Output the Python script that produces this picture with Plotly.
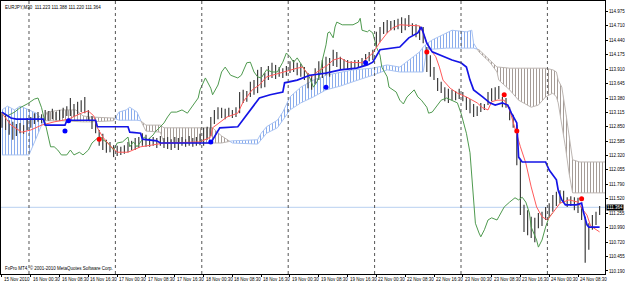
import plotly.graph_objects as go

# ---------------- data ----------------
symbol_header = "EURJPY,M30  111.223 111.388 111.220 111.364"
footer_text = "FxPro MT4, \u00a9 2001-2010 MetaQuotes Software Corp."
last_price = 111.364

# price bars (every second M30 bar index)
bar_idx = list(range(0, 333, 2))
bar_high = [113.12,113.07,112.97,112.94,112.90,112.92,112.88,113.01,113.03,113.10,
            113.12,113.08,113.16,113.14,113.18,113.12,113.16,113.20,113.23,113.38,
            113.27,113.31,113.34,113.40,113.16,113.05,112.97,112.79,112.72,112.61,
            112.57,112.51,112.50,112.48,112.51,112.57,112.59,112.64,112.66,112.73,
            112.70,112.64,112.66,112.64,112.68,112.64,112.66,112.62,112.66,112.64,
            112.66,112.62,112.68,112.64,112.66,112.72,112.83,112.85,113.03,113.16,
            113.21,113.20,113.18,113.20,113.16,113.21,113.49,113.53,113.51,113.68,
            113.71,113.90,113.95,113.84,113.97,114.03,113.99,113.95,113.93,113.97,
            114.06,114.08,114.03,114.01,113.95,113.84,113.80,113.93,114.06,114.08,
            114.14,114.12,114.27,114.23,114.14,114.10,114.08,114.06,114.08,114.08,
            114.12,114.19,114.23,114.27,114.60,114.69,114.78,114.82,114.80,114.82,
            114.84,114.87,114.85,114.91,114.76,114.74,114.71,114.69,114.32,114.17,
            113.95,113.75,113.68,113.58,113.55,113.53,113.51,113.55,113.49,113.40,
            113.36,113.27,113.23,113.29,113.27,113.49,113.56,113.58,113.60,113.40,
            113.38,113.21,113.07,112.88,112.24,111.41,111.31,111.19,111.17,111.26,
            111.28,111.37,111.44,111.59,111.65,111.68,111.67,111.55,111.57,111.55,
            111.54,111.37,111.19,111.07,111.22,111.28,111.39]
bar_low = [112.83,112.79,112.70,112.61,112.68,112.73,112.72,112.79,112.83,112.90,
           112.94,112.92,112.97,112.96,112.99,112.97,112.96,113.01,113.05,113.05,
           113.03,113.08,113.12,113.10,112.96,112.81,112.73,112.50,112.42,112.37,
           112.38,112.29,112.31,112.33,112.35,112.38,112.42,112.42,112.46,112.50,
           112.48,112.48,112.50,112.46,112.50,112.46,112.44,112.42,112.46,112.42,
           112.50,112.48,112.50,112.48,112.50,112.51,112.50,112.61,112.68,112.90,
           112.99,113.01,112.99,113.03,113.01,113.03,113.10,113.29,113.31,113.40,
           113.44,113.47,113.56,113.58,113.71,113.75,113.73,113.77,113.75,113.79,
           113.84,113.86,113.80,113.77,113.71,113.56,113.53,113.64,113.71,113.75,
           113.80,113.77,113.97,113.95,113.90,113.90,113.90,113.90,113.93,113.95,
           113.97,114.03,114.06,114.08,114.30,114.41,114.56,114.58,114.63,114.63,
           114.65,114.58,114.63,114.69,114.54,114.50,114.45,114.39,113.86,113.77,
           113.71,113.51,113.47,113.32,113.29,113.34,113.34,113.36,113.32,113.16,
           113.10,113.03,113.05,113.12,113.16,113.25,113.32,113.34,113.36,113.21,
           113.20,112.97,112.83,112.14,111.22,110.91,110.85,110.80,110.72,110.98,
           111.02,111.13,111.17,111.28,111.39,111.44,111.46,111.37,111.39,111.31,
           111.26,111.13,110.34,110.58,110.95,111.04,111.22]

# Kijun-sen (blue)
kijun_k = [0,5,8,23,24,35,36,38,52,53,70,71,77,78,86,88,116,120,121,131,138,143,149,156,157,
           164,171,180,188,197,203,206,210,221,226,231,233,236,239,245,250,255,258,260,262,
           267,271,274,278,281,283,286,287,289,302,304,308,309,311,313,319,322,323,325,326,332]
kijun_v = [113.12,113.01,112.99,112.99,112.88,112.88,112.96,112.97,112.97,112.85,112.85,112.75,
           112.73,112.62,112.59,112.55,112.55,112.79,112.83,112.85,113.16,113.38,113.44,113.49,
           113.66,113.71,113.80,113.84,113.90,113.93,113.99,114.04,114.27,114.32,114.49,114.58,
           114.69,114.39,114.23,114.14,114.08,114.03,113.95,113.71,113.53,113.40,113.29,113.25,
           113.29,113.25,113.10,112.92,112.29,112.20,112.20,112.05,111.87,111.68,111.50,111.41,
           111.41,111.44,111.28,111.04,111.00,111.00]

# Tenkan-sen (red)
tenkan_k = [0,5,11,16,22,29,37,44,48,51,53,56,60,64,70,77,83,90,110,116,117,125,131,134,139,
            143,147,154,158,164,167,169,172,175,181,184,188,192,200,203,206,210,214,217,221,
            232,234,236,238,241,243,245,249,253,258,264,267,270,272,275,279,282,284,286,288,
            291,294,297,300,303,306,310,315,320,322,325,327,332]
tenkan_v = [113.10,112.88,112.75,112.79,112.88,112.94,112.99,113.10,113.14,113.05,112.83,112.66,
            112.50,112.38,112.38,112.48,112.51,112.55,112.57,112.66,112.83,113.03,113.10,113.31,
            113.53,113.62,113.77,113.84,113.88,113.93,113.95,113.86,113.77,113.86,113.99,114.08,
            114.12,114.04,114.03,114.12,114.21,114.41,114.58,114.67,114.73,114.71,114.58,114.39,
            114.27,114.14,113.95,113.71,113.56,113.47,113.40,113.29,113.20,113.16,113.31,113.34,
            113.34,113.16,112.92,112.73,112.48,112.18,111.74,111.37,111.19,111.13,111.26,111.44,
            111.50,111.46,111.35,111.22,111.02,110.91]

# Chikou span (green)
chikou_k = [0,3,7,10,14,18,20,22,24,26,27,29,31,33,36,38,40,43,45,48,50,53,55,56,59,62,64,67,
            70,71,73,75,77,79,81,84,85,88,90,92,94,97,100,103,106,109,110,113,116,117,120,122,
            124,127,131,133,136,138,140,142,144,147,150,153,156,158,160,162,164,167,169,171,173,
            175,177,178,180,181,182,184,185,186,189,195,198,199,200,203,204,206,208,210,211,214,
            215,217,219,221,223,225,228,229,231,233,236,237,239,241,244,247,250,253,255,258,260,
            261,262,263,265,266,268,270,272,275,276,279,282,285,287,289,291,293,294,297,298,300,
            302,304,306]
chikou_v = [113.10,113.05,113.12,113.20,113.27,113.36,113.38,113.20,112.92,112.66,112.48,112.48,
            112.42,112.33,112.33,112.42,112.33,112.38,112.33,112.42,112.55,112.64,112.66,112.61,
            112.55,112.42,112.55,112.57,112.66,112.48,112.57,112.48,112.57,112.66,112.61,112.70,
            112.75,112.85,112.92,113.03,113.12,113.12,113.16,113.10,113.25,113.38,113.53,113.75,
            113.56,113.44,113.62,113.86,113.95,113.80,113.75,113.80,114.03,114.04,113.86,113.77,
            113.75,113.90,113.86,113.86,114.04,114.21,114.14,114.04,114.12,113.95,113.86,113.75,
            113.58,113.68,113.86,114.08,114.36,114.58,114.60,114.49,114.69,114.78,114.73,114.73,
            114.78,114.85,114.63,114.60,114.63,114.58,114.32,114.17,113.95,113.77,113.58,113.53,
            113.49,113.34,113.27,113.40,113.49,113.53,113.40,113.34,113.21,113.10,113.12,113.21,
            113.34,113.38,113.34,113.29,113.10,112.73,112.37,111.92,111.50,111.07,110.89,110.82,
            110.95,111.13,111.17,111.13,111.19,111.37,111.46,111.54,111.50,111.55,111.46,111.26,
            111.00,110.76,110.63,110.76,111.00,111.19,111.26]

# Senkou span A / B (cloud)
span_k = [0,3,7,10,15,19,23,25,33,41,45,49,62,65,69,71,75,77,80,88,90,117,122,128,142,144,147,
          153,156,160,166,173,180,188,195,206,214,221,226,232,234,236,239,247,250,258,261,262,
          265,271,275,276,282,287,294,298,302,306,308,309,311,313,315,317,321,336]
span_a = [113.16,113.23,113.16,113.23,113.16,113.10,112.97,112.96,112.96,112.94,112.94,112.94,
          112.96,113.12,113.16,113.21,113.12,112.97,112.77,112.75,112.55,112.55,112.55,112.59,
          112.61,112.73,112.85,112.97,113.12,113.40,113.58,113.71,113.80,113.86,113.90,113.93,
          113.99,113.95,114.08,114.23,114.32,114.38,114.45,114.58,114.63,114.60,114.63,114.39,
          114.23,114.04,113.86,113.71,113.53,113.34,113.21,113.25,113.40,113.47,113.40,113.29,
          112.92,112.48,112.00,111.63,111.63,111.63]
span_b = [112.33,112.33,112.33,112.33,112.33,112.64,112.96,113.12,113.16,113.16,113.05,113.03,
          113.01,112.97,112.97,112.97,112.97,112.96,112.88,112.88,112.83,112.83,112.68,112.55,
          112.53,112.61,112.73,112.83,112.97,113.16,113.29,113.40,113.53,113.60,113.68,113.80,
          113.90,113.86,113.86,113.86,113.86,114.27,114.28,114.30,114.30,114.30,114.30,114.30,
          114.27,114.08,113.95,113.95,113.93,113.93,113.93,113.93,113.93,113.90,113.86,113.71,
          113.58,113.16,112.73,112.24,112.20,112.20]

# signal dots
blue_dot_k = [35, 37, 116, 180, 202]
blue_dot_v = [112.77, 112.96, 112.57, 113.58, 114.03]
red_dot_k = [54, 236, 279, 286, 322]
red_dot_v = [112.62, 114.23, 113.44, 112.77, 111.52]

# axes
ytick_vals = [114.975, 114.710, 114.440, 114.175, 113.910, 113.645, 113.380, 113.115, 112.850,
              112.585, 112.320, 112.055, 111.790, 111.520, 111.255, 110.990, 110.720, 110.455, 110.190]
xlabel_k = [0,16,32,48,64,80,96,112,128,144,160,176,192,208,224,240,256,272,288,304,320]
xlabel_text = ["15 Nov 2010","16 Nov 00:30","16 Nov 08:30","16 Nov 16:30","17 Nov 00:30",
               "17 Nov 08:30","17 Nov 16:30","18 Nov 00:30","18 Nov 08:30","18 Nov 16:30",
               "19 Nov 00:30","19 Nov 08:30","19 Nov 16:30","22 Nov 00:30","22 Nov 08:30",
               "22 Nov 16:30","23 Nov 00:30","23 Nov 08:30","23 Nov 16:30","24 Nov 00:30",
               "24 Nov 08:30"]
day_sep_k = [15, 63, 111, 159, 207, 255, 303]

FONT = "Liberation Sans"
FS = 4.5

# ---------------- figure ----------------
fig = go.Figure()

# cloud, split where the spans cross
def cloud_runs(ks, a, b):
    runs = []
    cur = {"k": [ks[0]], "a": [a[0]], "b": [b[0]], "up": a[0] >= b[0]}
    for i in range(1, len(ks)):
        up = a[i] >= b[i]
        if up != cur["up"]:
            d0 = a[i-1] - b[i-1]
            d1 = a[i] - b[i]
            t = d0 / (d0 - d1)
            kc = ks[i-1] + t * (ks[i] - ks[i-1])
            vc = a[i-1] + t * (a[i] - a[i-1])
            cur["k"].append(kc); cur["a"].append(vc); cur["b"].append(vc)
            runs.append(cur)
            cur = {"k": [kc], "a": [vc], "b": [vc], "up": up}
        cur["k"].append(ks[i]); cur["a"].append(a[i]); cur["b"].append(b[i])
    runs.append(cur)
    return runs

for r in cloud_runs(span_k, span_a, span_b):
    if r["up"]:
        fg, edge = "#8aacec", "#a9c3f2"
    else:
        fg, edge = "#a59c97", "#bdb6b2"
    fig.add_trace(go.Scatter(
        x=r["k"] + r["k"][::-1], y=r["a"] + r["b"][::-1],
        mode="lines", fill="toself",
        fillcolor="rgba(255,255,255,0)",
        fillpattern=dict(shape="|", size=3, solidity=0.35, fgcolor=fg,
                         bgcolor="rgba(255,255,255,0)", fillmode="replace"),
        line=dict(color=edge, width=1), hoverinfo="skip", showlegend=False))

# bars
bx, by = [], []
for k, h, l in zip(bar_idx, bar_high, bar_low):
    bx += [k, k, None]
    by += [l, h, None]
fig.add_trace(go.Scatter(x=bx, y=by, mode="lines", line=dict(color="#3f3f3f", width=1.2),
                         hoverinfo="skip", showlegend=False))

fig.add_trace(go.Scatter(x=chikou_k, y=chikou_v, mode="lines",
                         line=dict(color="#4f9a4f", width=1), showlegend=False))
fig.add_trace(go.Scatter(x=tenkan_k, y=tenkan_v, mode="lines",
                         line=dict(color="#ff5a5a", width=1), showlegend=False))
fig.add_trace(go.Scatter(x=kijun_k, y=kijun_v, mode="lines",
                         line=dict(color="#1414e6", width=1.7), showlegend=False))
fig.add_trace(go.Scatter(x=blue_dot_k, y=blue_dot_v, mode="markers",
                         marker=dict(color="#0000ff", size=5), showlegend=False))
fig.add_trace(go.Scatter(x=red_dot_k, y=red_dot_v, mode="markers",
                         marker=dict(color="#ff0000", size=5), showlegend=False))

shapes = []
for k in day_sep_k:
    shapes.append(dict(type="line", xref="x", yref="paper", x0=k, x1=k, y0=0, y1=1,
                       line=dict(color="#555555", width=1, dash="dot"), layer="above"))
shapes.append(dict(type="line", xref="paper", yref="y", x0=0, x1=1, y0=last_price, y1=last_price,
                   line=dict(color="#b8d0f0", width=1), layer="below"))

annotations = []
for k, t in zip(xlabel_k, xlabel_text):
    annotations.append(dict(x=k, y=0, xref="x", yref="paper", text=t, showarrow=False,
                            xanchor="left", yanchor="top", xshift=0, yshift=-1,
                            font=dict(family=FONT, size=FS, color="#000000")))
annotations.append(dict(x=0, y=1, xref="paper", yref="paper", text=symbol_header, showarrow=False,
                        xanchor="left", yanchor="top", xshift=2, yshift=-2,
                        font=dict(family=FONT, size=FS, color="#000000")))
annotations.append(dict(x=0, y=0, xref="paper", yref="paper", text=footer_text, showarrow=False,
                        xanchor="left", yanchor="bottom", xshift=2, yshift=1,
                        font=dict(family=FONT, size=FS, color="#000000")))
annotations.append(dict(x=1, y=last_price, xref="paper", yref="y", text="%.3f" % last_price,
                        showarrow=False, xanchor="left", yanchor="middle", xshift=1,
                        bgcolor="#000000", borderpad=0,
                        font=dict(family=FONT, size=FS, color="#ffffff")))

fig.update_layout(
    width=625, height=282,
    margin=dict(l=0, r=19, t=1, b=8),
    paper_bgcolor="#ffffff", plot_bgcolor="#ffffff",
    shapes=shapes, annotations=annotations,
    xaxis=dict(range=[-0.55, 335.0], showgrid=False, zeroline=False,
               tickvals=xlabel_k, ticks="outside", ticklen=2, tickcolor="#000000",
               showticklabels=False, showline=True, linecolor="#000000", linewidth=1, mirror=True),
    yaxis=dict(range=[110.134, 115.169], side="right", showgrid=False, zeroline=False,
               tickvals=ytick_vals, ticktext=["%.3f" % v for v in ytick_vals],
               ticks="outside", ticklen=2, tickcolor="#000000",
               tickfont=dict(family=FONT, size=FS, color="#000000"),
               showline=True, linecolor="#000000", linewidth=1, mirror=True),
    showlegend=False,
)

fig.write_html("out.html")
